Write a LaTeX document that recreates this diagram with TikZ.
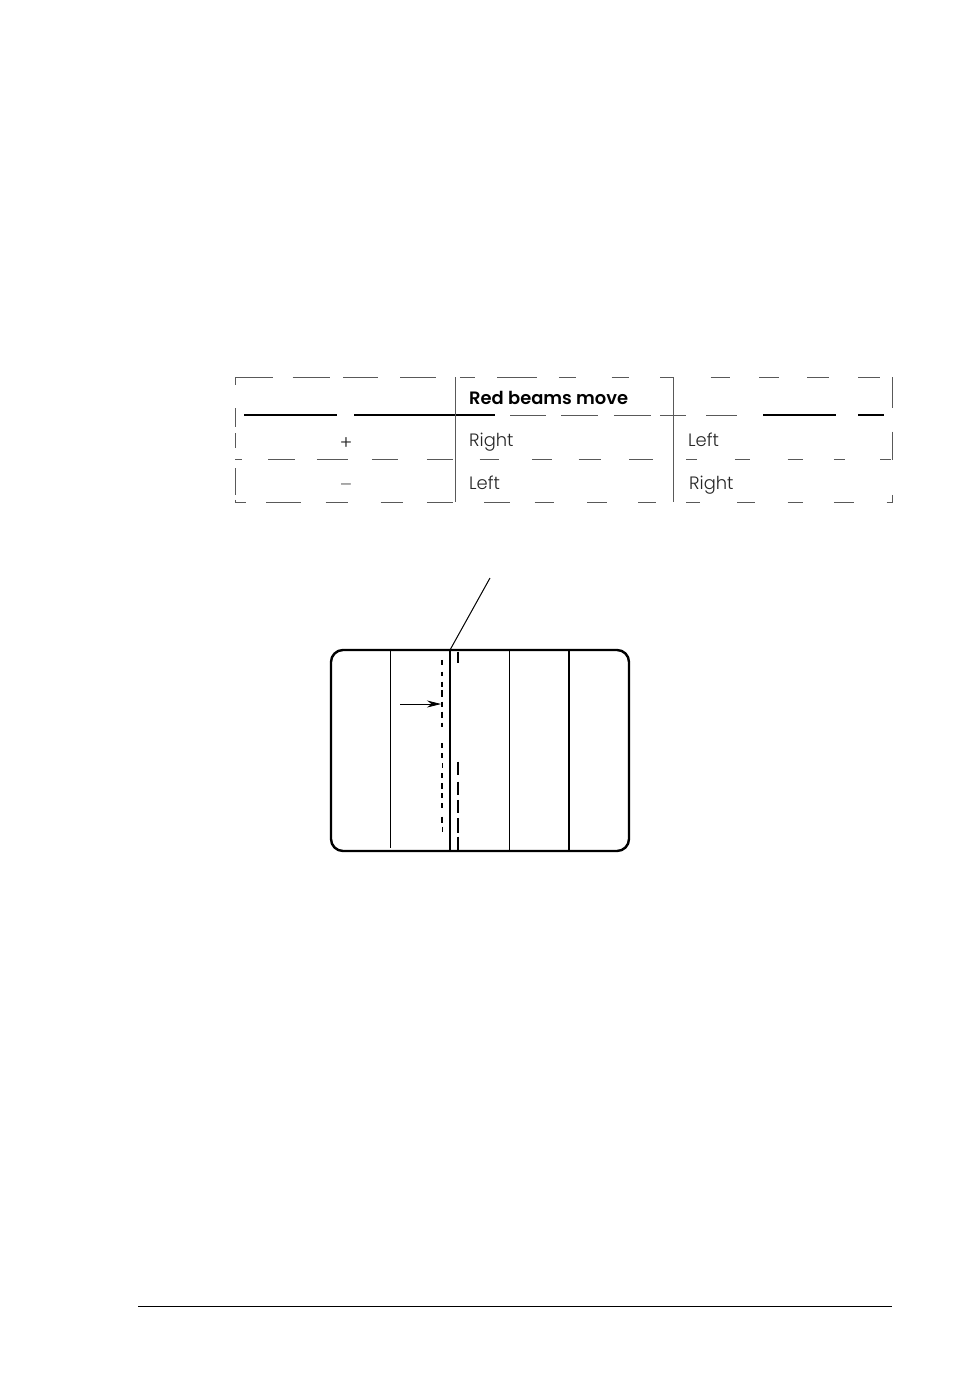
\documentclass[tikz,border=0pt]{standalone}
\usepackage{fontspec}
\setmainfont[UprightFont=* Light,BoldFont=* SemiBold]{Poppins}
\usetikzlibrary{arrows.meta}
\tikzset{
  cell/.style={anchor=base west,inner sep=0pt,font=\fontsize{17.9}{20}\selectfont,text=black!85},
  rulefine/.style={line width=0.7pt,black!65},
  ruledark/.style={line width=1.1pt,black},
  tube/.style={line width=2.4pt,black,rounded corners=12pt},
  beamthin/.style={line width=1pt,black},
  beamthick/.style={line width=2.2pt,black},
  misdash/.style={line width=2.1pt,black}
}
\newcommand{\hsegs}[3][rulefine]{\foreach \a/\b in {#3}{\draw[#1] (\a,#2) -- (\b,#2);}}
\newcommand{\vsegs}[3][rulefine]{\foreach \a/\b in {#3}{\draw[#1] (#2,\a) -- (#2,\b);}}
\begin{document}
\begin{tikzpicture}[x=1pt,y=-1pt]
\useasboundingbox (0,0) rectangle (954,1392);
% table, reference zoom coordinates
\begin{scope}[shift={(220,365)},x=0.44pt,y=-0.3333pt]
\hsegs{37}{35/120,165/250,280/360,410/490,545/580,630/720,770/810,890/930,1000/1030,1115/1160,1225/1270,1335/1385,1450/1500}
\hsegs[ruledark]{150}{55/265,305/625,1235/1400,1450/1510}
\hsegs{150}{660/740,775/860,895/980,1000/1060,1105/1175}
\hsegs{282}{35/50,110/170,220/290,345/405,470/530,590/635,710/755,815/865,930/985,1060/1085,1170/1205,1290/1325,1395/1420,1500/1525}
\hsegs{412}{35/60,105/185,240/290,365/415,470/530,600/660,715/760,835/880,950/990,1060/1090,1175/1215,1290/1325,1395/1440,1515/1530}
\vsegs{35}{37/60,130/185,205/250,310/390,405/412}
\vsegs{535}{37/412}
\vsegs{1030}{37/412}
\vsegs{1528}{37/130,200/285,390/412}
\end{scope}
\node[cell,font=\fontsize{17.9}{20}\selectfont\bfseries,text=black] (hdr) at (469,404.5) {Red beams move};
\node[cell] (r1a) at (469,446.5) {Right};
\node[cell] (r1b) at (688,446.5) {Left};
\node[cell] (r2a) at (469,489.5) {Left};
\node[cell] (r2b) at (689,489.5) {Right};
\node[cell,anchor=center,font=\fontsize{19}{20}\selectfont] (plus) at (346,444) {+};
\node[cell,anchor=center,font=\fontsize{19}{20}\selectfont,text=black!60] (minus) at (346,488) {–};
% screen
\draw[tube] (331,650) rectangle (629,851);
\coordinate (c1t) at (390,650); \coordinate (c1b) at (390,848);
\coordinate (c2t) at (450,650); \coordinate (c2b) at (450,851);
\coordinate (c3t) at (509.5,650); \coordinate (c3b) at (509.5,851);
\coordinate (c4t) at (569,650); \coordinate (c4b) at (569,851);
\draw[beamthin] (c1t) -- (c1b);
\draw[beamthick] (c2t) -- (c2b);
\draw[beamthin] (c3t) -- (c3b);
\draw[line width=1.5pt] (c4t) -- (c4b);
\coordinate (leadA) at (450,650); \coordinate (leadB) at (490,578);
\draw[line width=1pt] (leadA) -- (leadB);
\coordinate (arrA) at (400,704); \coordinate (arrB) at (441,704);
\draw[line width=0.7pt,-{Stealth[length=14pt,width=7pt]}] (arrA) -- (arrB);
\begin{scope}[shift={(320,570)},x=0.3333pt,y=-0.3333pt]
\vsegs[misdash]{367}{270/285,305/318,335/350,360/380,395/410,425/445,458/472,520/535,550/565,610/625,640/658,670/685,700/715,740/760}
\vsegs[line width=0.7pt]{367}{580/595,770/785}
\vsegs[misdash]{414}{245/280,635/675,690/730,745/790,800/840}
\vsegs[line width=1.1pt]{414}{575/615}
\end{scope}
% footer rule
\coordinate (fa) at (138,1306); \coordinate (fb) at (892,1306);
\draw[line width=1pt] (fa) -- (fb);
\end{tikzpicture}
\end{document}
